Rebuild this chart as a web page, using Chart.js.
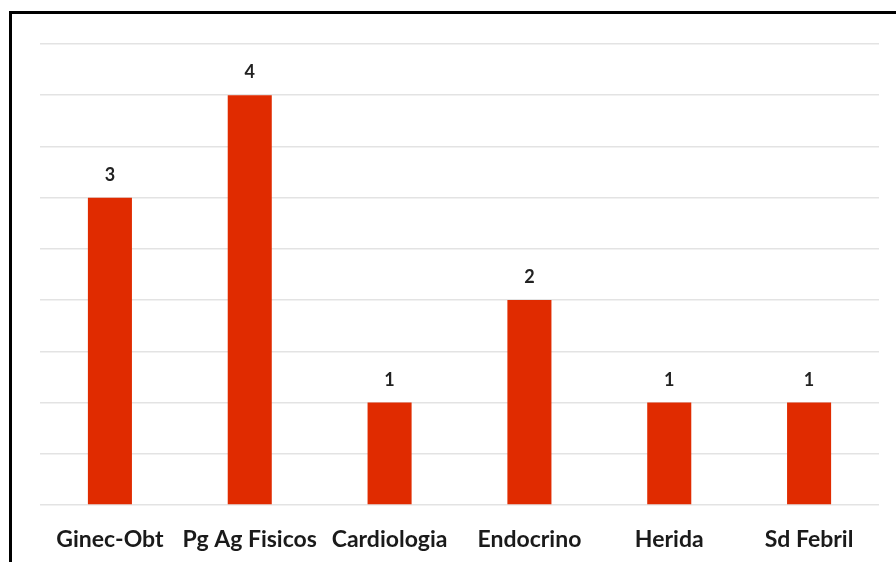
<!DOCTYPE html>
<html>
<head>
<meta charset="utf-8">
<script src="https://cdn.jsdelivr.net/npm/chart.js@4.4.0/dist/chart.umd.min.js"></script>
<style>
  html, body { margin: 0; padding: 0; background: #fff; overflow: hidden; }
  #frame {
    position: absolute; left: 9px; top: 11px;
    width: 920px; height: 600px;
    border: 3px solid #000; box-sizing: border-box;
  }
  #wrap { position: absolute; left: 0; top: 0; width: 896px; height: 562px; }
</style>
</head>
<body>
<div id="frame"></div>
<div id="wrap"><canvas id="bar-chart"></canvas></div>
<script>
const categories = ["Ginec-Obt", "Pg Ag Fisicos", "Cardiologia", "Endocrino", "Herida", "Sd Febril"];
const counts = [3, 4, 1, 2, 1, 1];

// draw the numbers above each bar
const valueLabels = {
  id: "valueLabels",
  afterDatasetsDraw(chart) {
    const ctx = chart.ctx;
    const meta = chart.getDatasetMeta(0);
    ctx.save();
    ctx.font = "bold 18px Lato";
    ctx.fillStyle = "#222";
    ctx.textAlign = "center";
    ctx.textBaseline = "alphabetic";
    meta.data.forEach((bar, i) => {
      ctx.fillText(counts[i], bar.x, bar.y - 17);
    });
    ctx.restore();
  },
};

const ctx = document.getElementById("bar-chart").getContext("2d");
new Chart(ctx, {
  type: "bar",
  data: {
    labels: categories,
    datasets: [
      {
        data: counts,
        backgroundColor: "#e02b00",
        borderWidth: 0,
        barPercentage: 0.315,
        categoryPercentage: 1,
      },
    ],
  },
  options: {
    responsive: true,
    maintainAspectRatio: false,
    animation: false,
    layout: { padding: { left: 40, right: 17, top: 44, bottom: 0 } },
    plugins: {
      legend: { display: false },
      tooltip: { enabled: false },
    },
    scales: {
      x: {
        grid: { display: false, drawTicks: false },
        border: { display: false },
        ticks: {
          color: "#1a1a1a",
          padding: 21,
          autoSkip: false,
          maxRotation: 0,
          minRotation: 0,
          font: { family: "Lato", size: 23, weight: "bold" },
        },
        afterFit(scale) {
          scale.height = 57;
          scale.paddingLeft = 0;
          scale.paddingRight = 0;
        },
      },
      y: {
        min: 0,
        max: 4.5,
        ticks: { display: false, stepSize: 0.5 },
        grid: { color: "#e3e3e3", lineWidth: 1.5, drawTicks: false },
        border: { display: false },
        afterFit(scale) { scale.width = 0; },
      },
    },
  },
  plugins: [valueLabels],
});
</script>
</body>
</html>
